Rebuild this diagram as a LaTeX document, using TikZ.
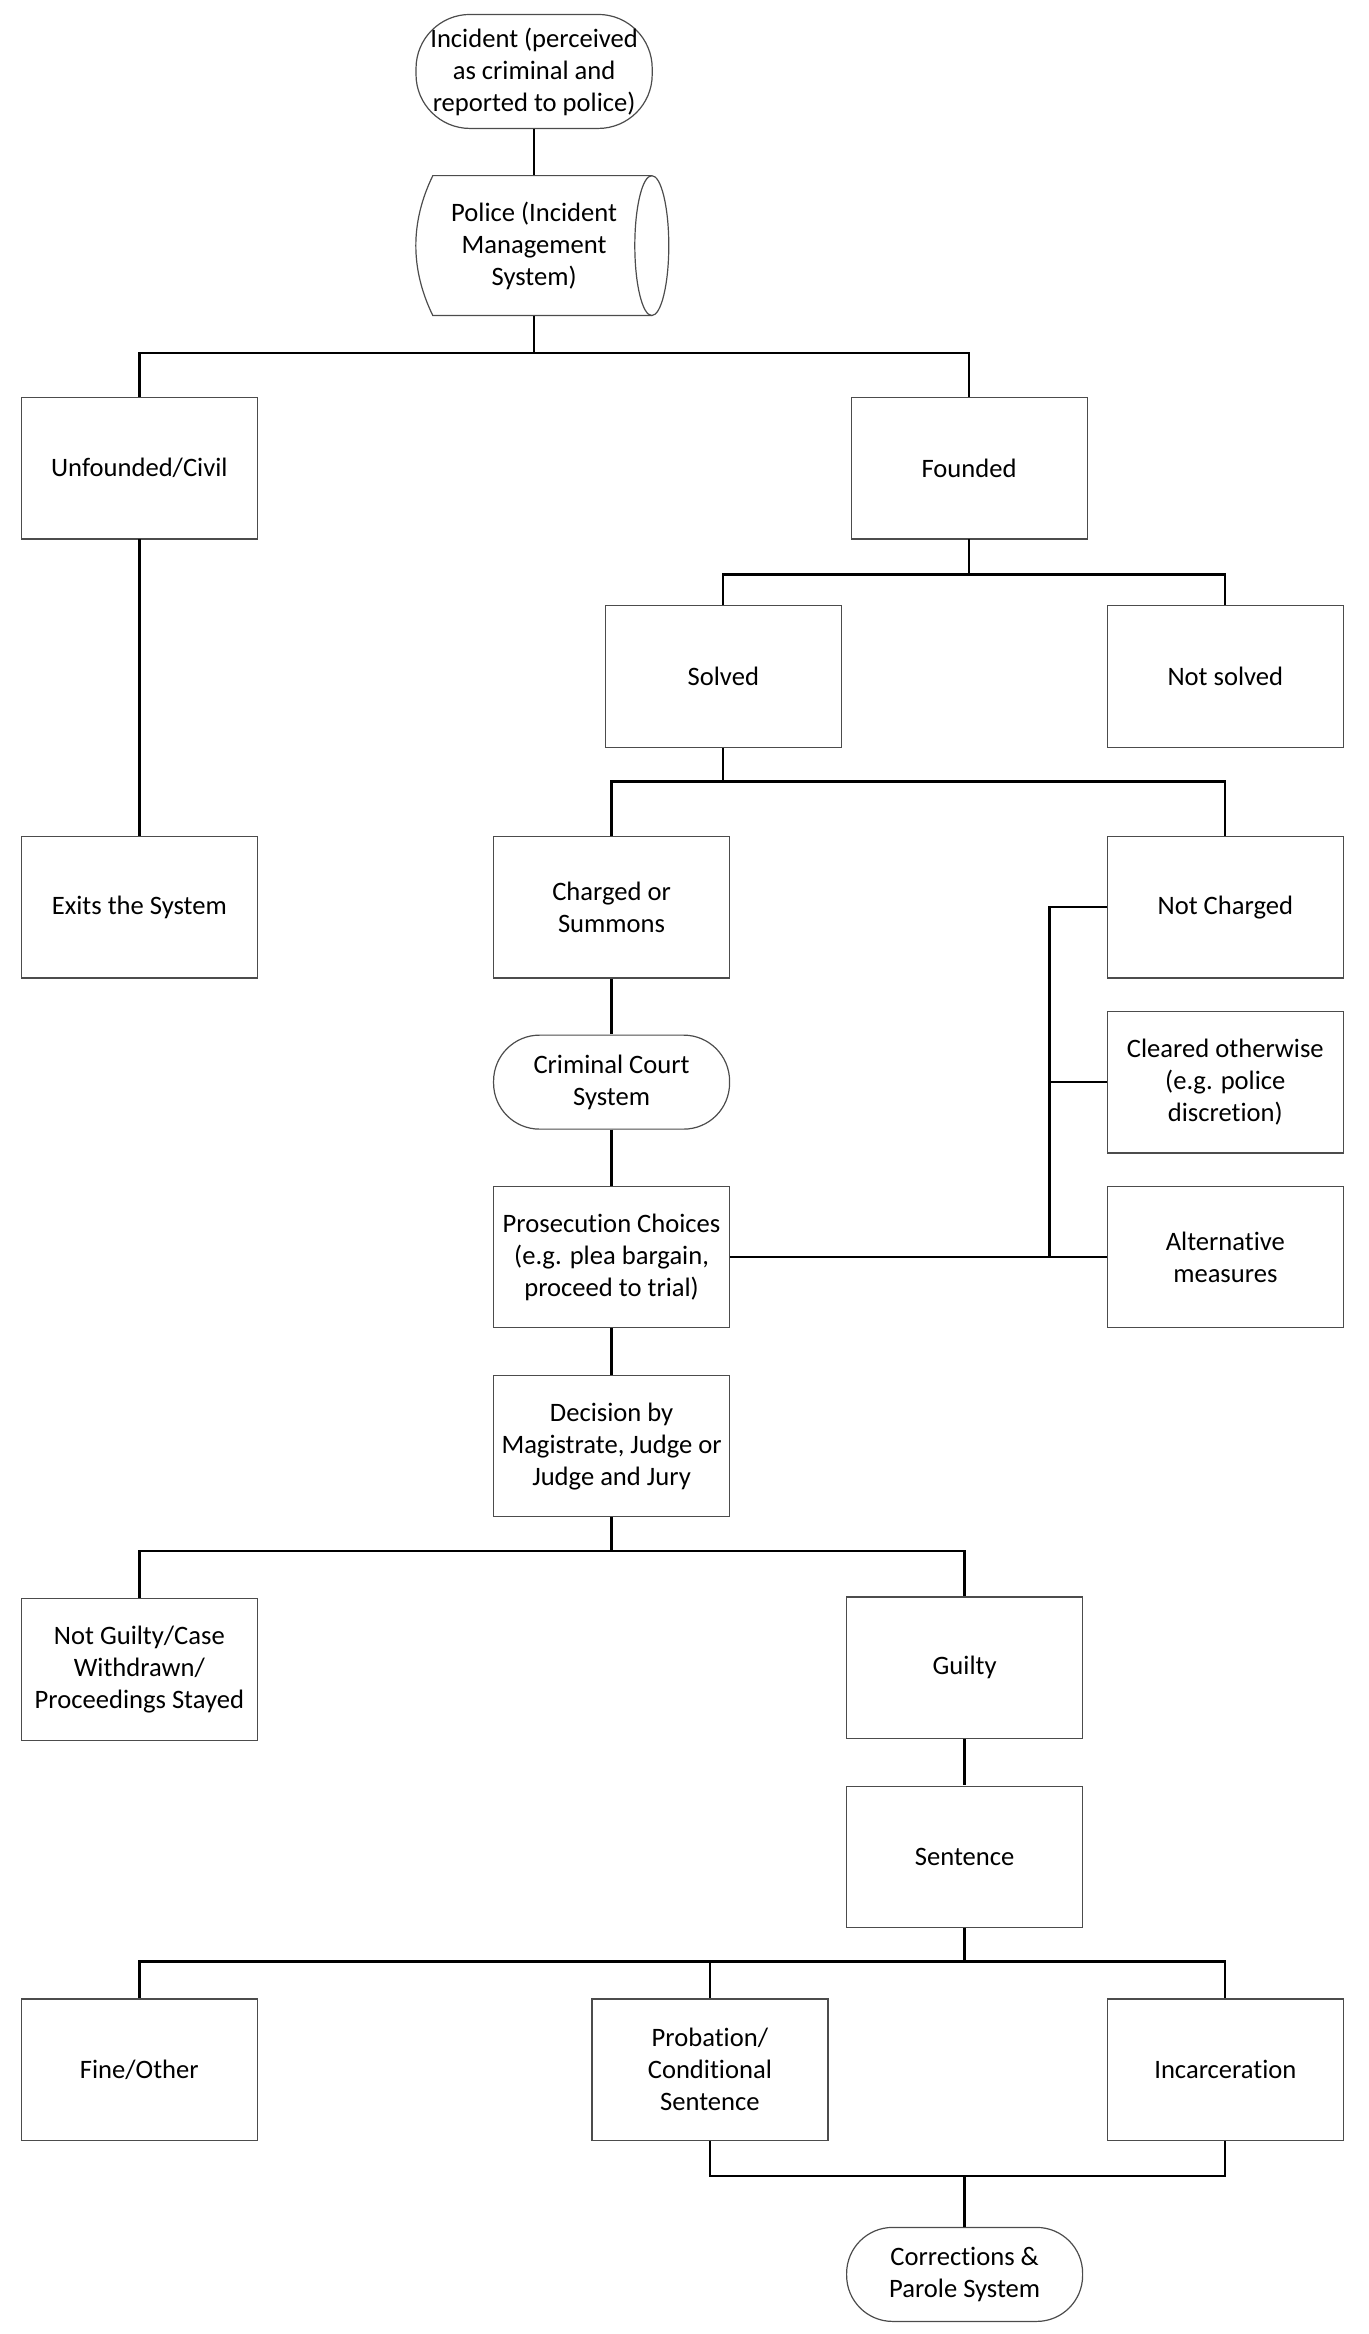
\documentclass[tikz,border=0pt]{standalone}
\usepackage{fontspec}
\setmainfont{Carlito}[Ligatures=NoCommon]
\begin{document}
\begin{tikzpicture}[x=0.7475pt,y=-0.7475pt,
  conn/.style={line width=1.2pt,black},
  boxstyle/.style={draw=black!70,line width=0.6pt,rectangle,minimum width=118pt,minimum height=70.8pt,align=center,inner sep=1pt,font=\fontsize{13.3}{16}\selectfont},
  termstyle/.style={draw=black!70,line width=0.6pt,rectangle,rounded corners=23pt,minimum width=118pt,minimum height=47pt,align=center,inner sep=1pt,font=\fontsize{13.3}{16}\selectfont},
  txt/.style={align=center,inner sep=1pt,font=\fontsize{13.3}{16}\selectfont}]
\useasboundingbox (0,0) rectangle (915.05,1561.2);
\begin{scope}[xscale=0.99643,yscale=0.99563,xshift=-0.34pt]
% Incident
\node[termstyle,rounded corners=27pt,minimum width=118.1pt,minimum height=57pt,inner sep=0pt] (inc) at (359,48) {Incident (perceived\\as criminal and\\reported to police)};
% Police (direct access storage)
\draw[draw=black!70,line width=0.6pt] (291,118) -- (438,118)
  arc[start angle=-90,end angle=90,x radius=11.4,y radius=47] -- (291,212)
  .. controls (275.8,180.7) and (275.8,149.3) .. (291,118) -- cycle;
\draw[draw=black!70,line width=0.6pt] (438,118) arc[start angle=-90,end angle=-270,x radius=11.4,y radius=47];
\node[txt,minimum height=70.27pt,minimum width=100pt] (police) at (359,165) {Police (Incident\\Management\\System)};
% Boxes
\node[boxstyle] (unf) at (94,314.5) {Unfounded/Civil};
\node[boxstyle] (found) at (651,314.5) {Founded};
\node[boxstyle] (solved) at (486,454.5) {Solved};
\node[boxstyle] (notsolved) at (823,454.5) {Not solved};
\node[boxstyle] (exits) at (94,609.5) {Exits the System};
\node[boxstyle] (charged) at (411,609.5) {Charged or\\Summons};
\node[boxstyle] (notch) at (823,609.5) {Not Charged};
\node[boxstyle] (cleared) at (823,727) {Cleared otherwise\\(e.g. police\\discretion)};
\node[boxstyle] (alt) at (823,844.5) {Alternative\\measures};
\node[termstyle] (court) at (411,727) {Criminal Court\\System};
\node[boxstyle] (pros) at (411,844.5) {Prosecution Choices\\(e.g. plea bargain,\\proceed to trial)};
\node[boxstyle] (dec) at (411,971.5) {Decision by\\Magistrate, Judge or\\Judge and Jury};
\node[boxstyle] (notg) at (94,1121.5) {Not Guilty/Case\\Withdrawn/\\Proceedings Stayed};
\node[boxstyle] (guilty) at (648,1120.5) {Guilty};
\node[boxstyle] (sent) at (648,1247.5) {Sentence};
\node[boxstyle] (fine) at (94,1390.5) {Fine/Other};
\node[boxstyle] (prob) at (477,1390.5) {Probation/\\Conditional\\Sentence};
\node[boxstyle] (incar) at (823,1390.5) {Incarceration};
\node[termstyle] (corr) at (648,1528) {Corrections \&\\Parole System};
% Junctions
\coordinate (j1) at (359,237);
\coordinate (j2) at (651,386);
\coordinate (j3) at (486,525);
\coordinate (vb) at (705,844.5);
\coordinate (j5) at (411,1042);
\coordinate (j6) at (648,1318);
\coordinate (j7) at (648,1462);
% Connectors
\draw[conn] (inc.south) -- (police.north);
\draw[conn] (police.south) -- (j1);
\draw[conn] (unf.north) |- (j1) -| (found.north);
\draw[conn] (unf.south) -- (exits.north);
\draw[conn] (found.south) -- (j2);
\draw[conn] (solved.north) |- (j2) -| (notsolved.north);
\draw[conn] (solved.south) -- (j3);
\draw[conn] (charged.north) |- (j3) -| (notch.north);
\draw[conn] (charged.south) -- (court.north);
\draw[conn] (court.south) -- (pros.north);
\draw[conn] (pros.south) -- (dec.north);
\draw[conn] (pros.east) -- (alt.west);
\draw[conn] (notch.west) -| (vb);
\draw[conn] (cleared.west) -- (cleared.west -| vb);
\draw[conn] (dec.south) -- (j5);
\draw[conn] (notg.north) |- (j5) -| (guilty.north);
\draw[conn] (guilty.south) -- (sent.north);
\draw[conn] (sent.south) -- (j6);
\draw[conn] (fine.north) |- (j6) -| (incar.north);
\draw[conn] (prob.north) -- (prob.north |- j6);
\draw[conn] (prob.south) |- (j7);
\draw[conn] (incar.south) |- (j7);
\draw[conn] (j7) -- (corr.north);
\end{scope}
\end{tikzpicture}
\end{document}
